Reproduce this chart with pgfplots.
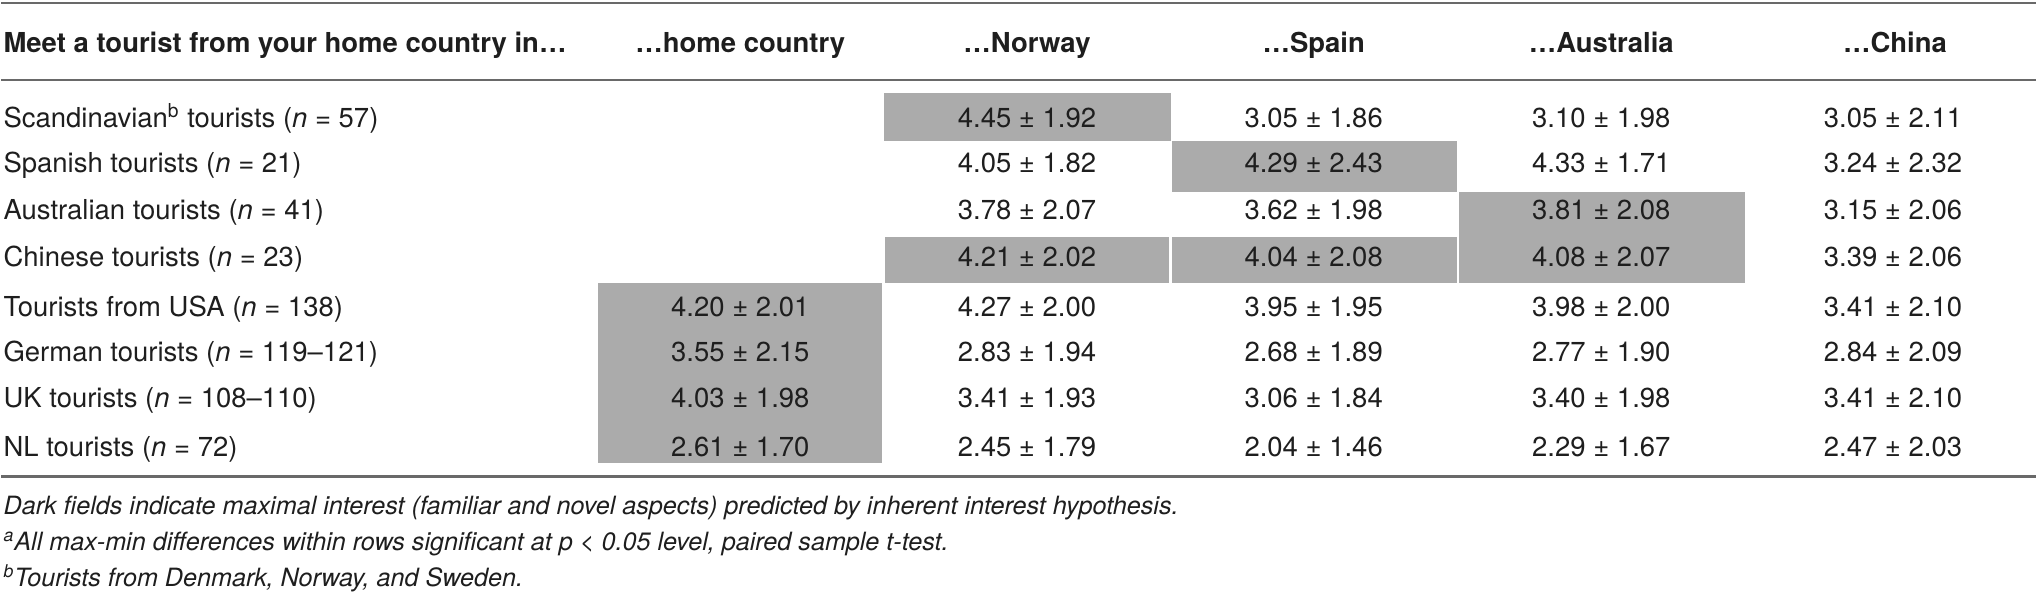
\documentclass[border=0pt]{standalone}
\usepackage{pgfplots}
\pgfplotsset{compat=1.18}
\usepackage{pgfplotstable}
\usepackage{fontspec}
\setmainfont{TeX Gyre Heros}
\definecolor{cellgray}{RGB}{171,171,171}
\definecolor{rulegray}{RGB}{105,105,105}
\definecolor{txt}{RGB}{30,30,30}
\newcommand{\tfont}{\fontsize{13.75pt}{16pt}\selectfont}
\newcommand{\ffont}{\fontsize{12.6pt}{15pt}\selectfont}

% x = column centre (px), y = text baseline (px), m = mean, s = SD
\pgfplotstableread{
x y m s
1027 128 4.45 1.92
1314 128 3.05 1.86
1602 128 3.10 1.98
1894 128 3.05 2.11
1027 173 4.05 1.82
1314 173 4.29 2.43
1602 173 4.33 1.71
1894 173 3.24 2.32
1027 220 3.78 2.07
1314 220 3.62 1.98
1602 220 3.81 2.08
1894 220 3.15 2.06
1027 267 4.21 2.02
1314 267 4.04 2.08
1602 267 4.08 2.07
1894 267 3.39 2.06
740 317 4.20 2.01
1027 317 4.27 2.00
1314 317 3.95 1.95
1602 317 3.98 2.00
1894 317 3.41 2.10
740 362 3.55 2.15
1027 362 2.83 1.94
1314 362 2.68 1.89
1602 362 2.77 1.90
1894 362 2.84 2.09
740 408 4.03 1.98
1027 408 3.41 1.93
1314 408 3.06 1.84
1602 408 3.40 1.98
1894 408 3.41 2.10
740 457 2.61 1.70
1027 457 2.45 1.79
1314 457 2.04 1.46
1602 457 2.29 1.67
1894 457 2.47 2.03
}\vals

\begin{document}
\begin{tikzpicture}
\begin{axis}[
  width=1018.5pt, height=299pt, scale only axis,
  xmin=0, xmax=2037, ymin=0, ymax=598, y dir=reverse,
  hide axis, clip=false,
]
\addplot[draw=none] coordinates {(0,0) (2037,598)};
% shaded cells
\addplot[fill=cellgray, draw=none] coordinates {(884,93) (1171,93) (1171,141) (884,141)};
\addplot[fill=cellgray, draw=none] coordinates {(1172,141) (1457,141) (1457,192) (1172,192)};
\addplot[fill=cellgray, draw=none] coordinates {(1460,192) (1746,192) (1746,283) (1460,283)};
\addplot[fill=cellgray, draw=none] coordinates {(885,237) (1169,237) (1169,283) (885,283)};
\addplot[fill=cellgray, draw=none] coordinates {(1172,237) (1457,237) (1457,283) (1172,283)};
\addplot[fill=cellgray, draw=none] coordinates {(597,283) (882,283) (882,464) (597,464)};
% rules
\addplot[draw=rulegray, line width=1.2pt] coordinates {(0,3) (2037,3)};
\addplot[draw=rulegray, line width=1.2pt] coordinates {(0,80) (2037,80)};
\addplot[draw=rulegray, line width=1.2pt] coordinates {(0,477) (2037,477)};
% values
\addplot[draw=none, mark=none,
  visualization depends on={\thisrow{m}\as\mv},
  visualization depends on={\thisrow{s}\as\sv},
  nodes near coords={\pgfmathprintnumber[fixed,fixed zerofill,precision=2,assume math mode=true]{\mv}\ ±\ \pgfmathprintnumber[fixed,fixed zerofill,precision=2,assume math mode=true]{\sv}},
  every node near coord/.append style={anchor=base, inner sep=0pt, font=\tfont, text=txt},
] table[x=x, y=y] {\vals};

% header
\begin{scope}[every node/.style={anchor=base, inner sep=0pt, font=\tfont\bfseries, text=txt}]
\node[anchor=base west] at (axis cs:2,53) {Meet a tourist from your home country in…};
\node at (axis cs:740,53) {…home country};
\node at (axis cs:1027,53) {…Norway};
\node at (axis cs:1314,53) {…Spain};
\node at (axis cs:1602,53) {…Australia};
\node at (axis cs:1896,53) {…China};
\end{scope}
% row labels
\begin{scope}[every node/.style={anchor=base west, inner sep=0pt, font=\tfont, text=txt}]
\node at (axis cs:2,128) {Scandinavian\textsuperscript{b} tourists (\textit{n} = 57)};
\node at (axis cs:2,173) {Spanish tourists (\textit{n} = 21)};
\node at (axis cs:2,220) {Australian tourists (\textit{n} = 41)};
\node at (axis cs:2,267) {Chinese tourists (\textit{n} = 23)};
\node at (axis cs:2,317) {Tourists from USA (\textit{n} = 138)};
\node at (axis cs:2,362) {German tourists (\textit{n} = 119–121)};
\node at (axis cs:2,408) {UK tourists (\textit{n} = 108–110)};
\node at (axis cs:2,457) {NL tourists (\textit{n} = 72)};
\end{scope}
% footnotes
\begin{scope}[every node/.style={anchor=base west, inner sep=0pt, font=\ffont\itshape, text=txt}]
\node at (axis cs:2,515) {Dark fields indicate maximal interest (familiar and novel aspects) predicted by inherent interest hypothesis.};
\node at (axis cs:2,551) {\textsuperscript{a}All max-min differences within rows significant at p < 0.05 level, paired sample t-test.};
\node at (axis cs:2,587) {\textsuperscript{b}Tourists from Denmark, Norway, and Sweden.};
\end{scope}
\end{axis}
\end{tikzpicture}
\end{document}
